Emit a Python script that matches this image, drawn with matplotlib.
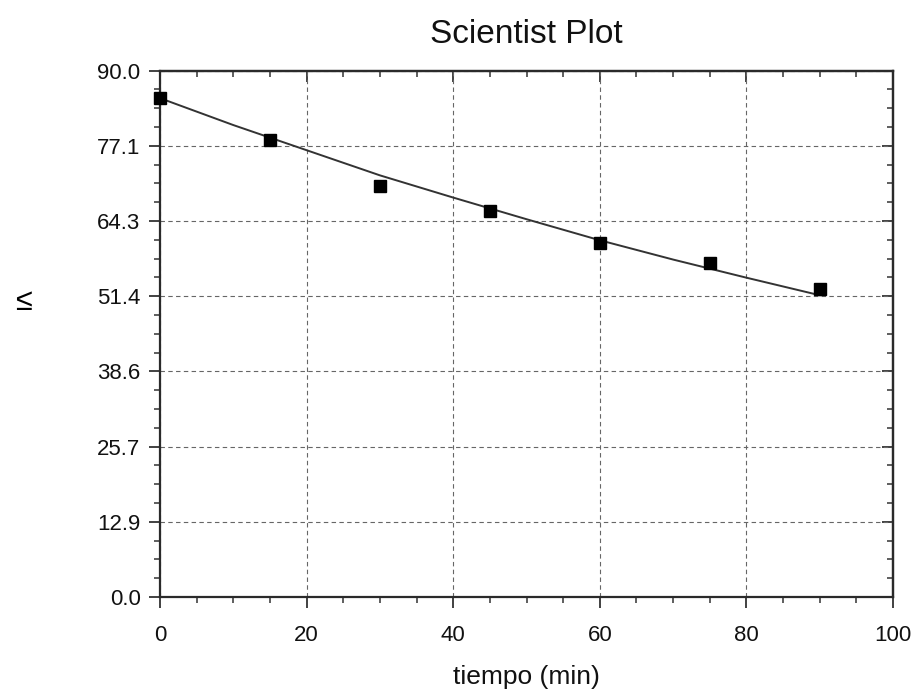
import numpy as np
import matplotlib.pyplot as plt
from matplotlib.ticker import FixedLocator, MultipleLocator

plt.rcParams['font.family'] = ['Liberation Sans', 'DejaVu Sans']

# measured points
t_min = [0, 15, 30, 45, 60, 75, 90]
v_meas = [85.3, 78.1, 70.3, 66.0, 60.5, 57.1, 52.6]

# fitted curve
t_fit = [0, 10, 20, 30, 40, 50, 60, 70, 80, 90]
v_fit = [85.3, 80.7, 76.4, 72.1, 68.3, 64.6, 61.0, 57.7, 54.6, 51.6]

x_ticks = [0, 20, 40, 60, 80, 100]
y_ticks = [0.0, 90 / 7, 180 / 7, 270 / 7, 360 / 7, 450 / 7, 540 / 7, 90.0]

fig = plt.figure(figsize=(9.18, 6.97), dpi=100)
ax = fig.add_axes([0.1743, 0.1435, 0.7985, 0.7551])

ax.plot(t_fit, v_fit, color='#333333', lw=1.4, zorder=3)
ax.plot(t_min, v_meas, 's', color='black', ms=8, zorder=4, clip_on=False)

ax.set_xlim(0, 100)
ax.set_ylim(0, 90)

ax.xaxis.set_major_locator(FixedLocator(x_ticks))
ax.xaxis.set_minor_locator(MultipleLocator(5))
ax.yaxis.set_major_locator(FixedLocator(y_ticks))
ax.yaxis.set_minor_locator(MultipleLocator(90 / 28))
ax.set_yticklabels(['%.1f' % v for v in y_ticks])

ax.grid(which='major', color='#666666', ls=(0, (4, 3)), lw=0.8)
ax.tick_params(which='major', direction='out', length=8, width=1.3,
               color='#333333', labelsize=16, labelcolor='#111111')
ax.tick_params(which='minor', direction='out', length=4, width=1.1,
               color='#333333')
ax.tick_params(axis='x', which='major', pad=12)
ax.tick_params(axis='y', which='major', pad=6)

# top and right: ticks pointing into the frame
top = ax.secondary_xaxis('top')
top.xaxis.set_major_locator(FixedLocator(x_ticks))
top.xaxis.set_minor_locator(MultipleLocator(5))
top.tick_params(which='major', direction='in', length=8, width=1.3,
                color='#333333', labeltop=False)
top.tick_params(which='minor', direction='in', length=4, width=1.1,
                color='#333333')
right = ax.secondary_yaxis('right')
right.yaxis.set_major_locator(FixedLocator(y_ticks))
right.yaxis.set_minor_locator(MultipleLocator(90 / 28))
right.tick_params(which='major', direction='in', length=8, width=1.3,
                  color='#333333', labelright=False)
right.tick_params(which='minor', direction='in', length=4, width=1.1,
                  color='#333333')

for sp in list(ax.spines.values()) + [top.spines['top'], right.spines['right']]:
    sp.set_color('#2a2a2a')
    sp.set_linewidth(1.6)

ax.set_title('Scientist Plot', fontsize=24, pad=20, color='#111111')
ax.set_xlabel('tiempo (min)', fontsize=19, labelpad=14, color='#111111')
fig.text(0.026, 0.567, '≤', fontsize=22, ha='center', va='center')

fig.savefig('out.png', dpi=100)
